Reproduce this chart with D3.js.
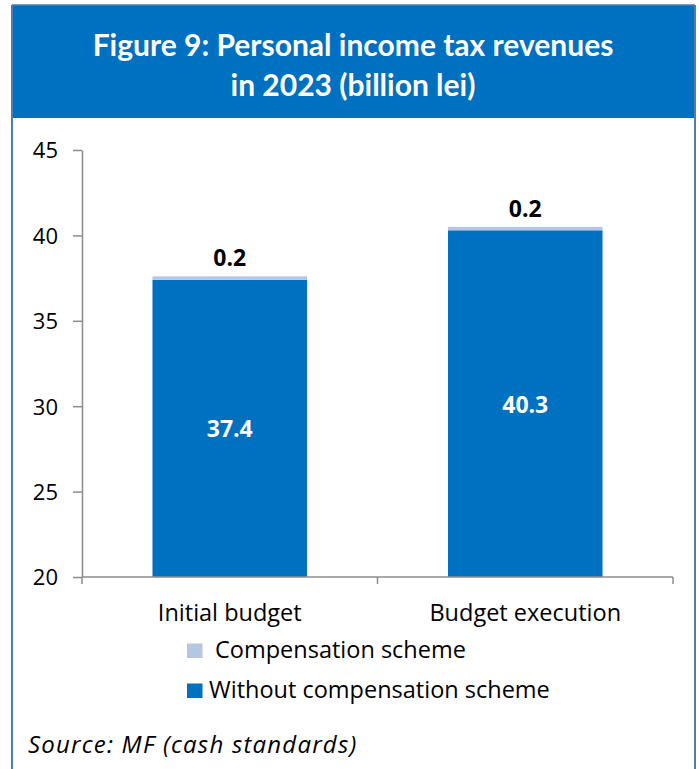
<!DOCTYPE html>
<html>
<head>
<meta charset="utf-8">
<script src="https://cdn.jsdelivr.net/npm/d3@7"></script>
<style>
  html, body { margin: 0; padding: 0; background: #fff; }
  svg { display: block; font-family: "Open Sans", Lato, sans-serif; }
</style>
</head>
<body>
<script>
// Personal income tax revenues in 2023, billion lei
const categories = ["Initial budget", "Budget execution"];
const withoutScheme = [37.4, 40.3];
const compensationScheme = [0.2, 0.2];
const seriesNames = ["Compensation scheme", "Without compensation scheme"];
const yTicks = [20, 25, 30, 35, 40, 45];

const W = 699, H = 769;
const blue = "#0070C0", light = "#B4C6E4", axisGrey = "#8C8C8C", frame = "#4A7EBB";
const bodyFont = "'Open Sans', Lato, sans-serif";
const titleFont = "Lato, 'Open Sans', sans-serif";

const svg = d3.select("body").append("svg").attr("width", W).attr("height", H);

// frame and title banner
svg.append("rect").attr("x", 12).attr("y", 5).attr("width", 683).attr("height", 113).attr("fill", blue);
svg.append("line").attr("x1", 12).attr("x2", 12).attr("y1", 5).attr("y2", H).attr("stroke", frame).attr("stroke-width", 2);
svg.append("line").attr("x1", 695).attr("x2", 695).attr("y1", 5).attr("y2", H).attr("stroke", frame).attr("stroke-width", 2);
svg.append("line").attr("x1", 12).attr("x2", 695).attr("y1", 5).attr("y2", 5).attr("stroke", frame).attr("stroke-width", 1.5);

const title = svg.append("text").attr("text-anchor", "middle").attr("fill", "#fff")
  .style("font-family", titleFont).style("font-size", "30px").style("font-weight", 700);
title.append("tspan").attr("x", 353).attr("y", 56).text("Figure 9: Personal income tax revenues");
title.append("tspan").attr("x", 353).attr("y", 96).text("in 2023 (billion lei)");

// scales
const x = d3.scaleBand().domain(categories).range([82, 673]).paddingInner(0.477).paddingOuter(0.2385);
const y = d3.scaleLinear().domain([20, 45]).range([577, 150]);

// y axis
const yAxis = svg.append("g").attr("transform", "translate(82,0)")
  .call(d3.axisLeft(y).tickValues(yTicks).tickSize(9).tickPadding(15).tickSizeOuter(0));
yAxis.select(".domain").attr("stroke", axisGrey).attr("stroke-width", 1.5);
yAxis.selectAll(".tick line").attr("stroke", axisGrey).attr("stroke-width", 1.5);
yAxis.selectAll(".tick text").attr("fill", "#000").attr("dy", "0.36em")
  .style("font-family", bodyFont).style("font-size", "22px");

// bars: base segment
svg.append("g").selectAll("rect").data(categories).join("rect")
  .attr("x", d => x(d)).attr("width", x.bandwidth())
  .attr("y", (d, i) => y(withoutScheme[i]))
  .attr("height", (d, i) => y(20) - y(withoutScheme[i]))
  .attr("fill", blue);

// bars: compensation scheme segment stacked on top
svg.append("g").selectAll("rect").data(categories).join("rect")
  .attr("x", d => x(d)).attr("width", x.bandwidth())
  .attr("y", (d, i) => y(withoutScheme[i] + compensationScheme[i]))
  .attr("height", (d, i) => y(withoutScheme[i]) - y(withoutScheme[i] + compensationScheme[i]))
  .attr("fill", light);

// x axis line with boundary ticks
const xAxisY = y(20);
svg.append("line").attr("x1", 82).attr("x2", 673).attr("y1", xAxisY).attr("y2", xAxisY)
  .attr("stroke", axisGrey).attr("stroke-width", 1.5);
const bounds = [82, (x(categories[0]) + x.bandwidth() + x(categories[1])) / 2, 673];
svg.append("g").selectAll("line").data(bounds).join("line")
  .attr("x1", d => d).attr("x2", d => d).attr("y1", xAxisY).attr("y2", xAxisY + 7)
  .attr("stroke", axisGrey).attr("stroke-width", 1.5);

// category labels
svg.append("g").selectAll("text").data(categories).join("text")
  .attr("x", d => x(d) + x.bandwidth() / 2).attr("y", xAxisY + 44)
  .attr("text-anchor", "middle").attr("fill", "#000")
  .style("font-family", bodyFont).style("font-size", "23.5px").text(d => d);

// value labels inside base segments
svg.append("g").selectAll("text").data(categories).join("text")
  .attr("x", d => x(d) + x.bandwidth() / 2)
  .attr("y", (d, i) => (y(withoutScheme[i]) + y(20)) / 2 + 9)
  .attr("text-anchor", "middle").attr("fill", "#fff")
  .style("font-family", bodyFont).style("font-size", "23px").style("font-weight", 700)
  .text((d, i) => withoutScheme[i].toFixed(1));

// value labels above compensation segments
svg.append("g").selectAll("text").data(categories).join("text")
  .attr("x", d => x(d) + x.bandwidth() / 2)
  .attr("y", (d, i) => y(withoutScheme[i] + compensationScheme[i]) - 10)
  .attr("text-anchor", "middle").attr("fill", "#000")
  .style("font-family", bodyFont).style("font-size", "23px").style("font-weight", 700)
  .text((d, i) => compensationScheme[i].toFixed(1));

// legend
const legendRows = [
  { name: seriesNames[0], color: light, base: 658, tx: 215 },
  { name: seriesNames[1], color: blue, base: 698, tx: 209 }
];
const lg = svg.append("g").selectAll("g").data(legendRows).join("g");
lg.append("rect").attr("x", 187).attr("y", d => d.base - 14.5).attr("width", 15.5).attr("height", 14.5).attr("fill", d => d.color);
lg.append("text").attr("x", d => d.tx).attr("y", d => d.base).attr("fill", "#000")
  .style("font-family", bodyFont).style("font-size", "23.5px").text(d => d.name);

// source note
svg.append("text").attr("x", 28).attr("y", 753).attr("fill", "#000")
  .style("font-family", bodyFont).style("font-size", "24px").style("font-style", "italic")
  .style("letter-spacing", "1.2px")
  .text("Source: MF (cash standards)");
</script>
</body>
</html>
